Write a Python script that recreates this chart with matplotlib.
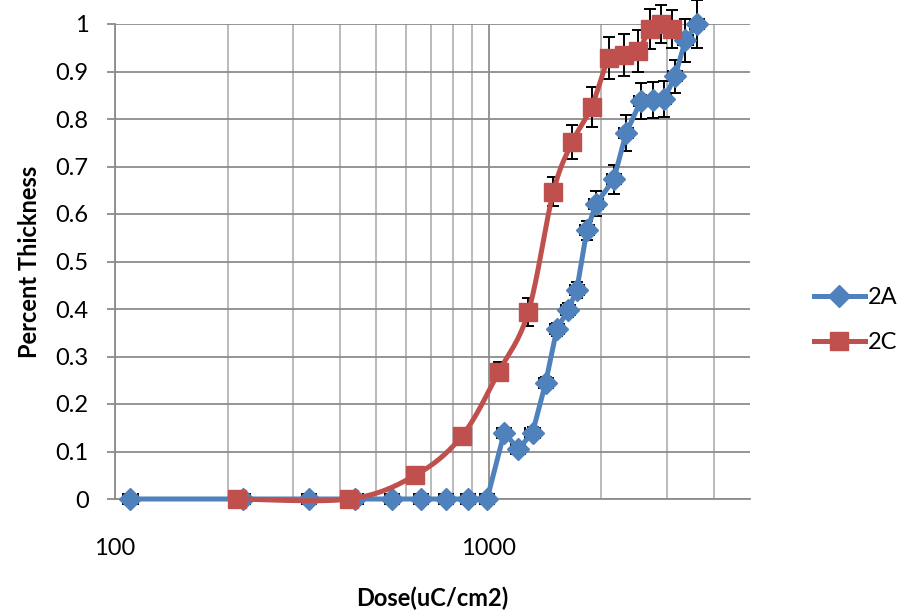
import numpy as np
import matplotlib
matplotlib.use("Agg")
import matplotlib.pyplot as plt
from matplotlib.ticker import FixedLocator, NullFormatter, FixedFormatter
from matplotlib.lines import Line2D

# Series 2A
dose_2a = [110, 220, 330, 440, 550, 660, 770, 880, 990,
           1100, 1200, 1310, 1420, 1520, 1630, 1720, 1830, 1940,
           2160, 2330, 2550, 2750, 2950, 3150, 3360, 3610]
thick_2a = [0, 0, 0, 0, 0, 0, 0, 0, 0,
            0.14, 0.105, 0.14, 0.245, 0.357, 0.398, 0.44, 0.566, 0.622,
            0.673, 0.77, 0.838, 0.84, 0.843, 0.89, 0.966, 1.0]
err_2a = [0.01] * 9 + [0.01, 0.01, 0.012, 0.012, 0.014, 0.015, 0.016, 0.02, 0.027,
                       0.03, 0.038, 0.037, 0.037, 0.038, 0.035, 0.045, 0.05]

# Series 2C
dose_2c = [212, 424, 636, 848, 1064, 1276, 1489, 1675, 1885,
           2100, 2295, 2515, 2695, 2890, 3095]
thick_2c = [0, 0, 0.05, 0.133, 0.268, 0.394, 0.647, 0.752, 0.826,
            0.929, 0.935, 0.944, 0.99, 1.0, 0.99]
err_2c = [0.005, 0.005, 0.01, 0.015, 0.02, 0.03, 0.03, 0.036, 0.042,
          0.044, 0.044, 0.044, 0.042, 0.04, 0.04]

y_ticks = [0, 0.1, 0.2, 0.3, 0.4, 0.5, 0.6, 0.7, 0.8, 0.9, 1]
y_tick_labels = ["0", "0.1", "0.2", "0.3", "0.4", "0.5", "0.6", "0.7", "0.8", "0.9", "1"]
x_major = [100, 1000]
x_major_labels = ["100", "1000"]
x_minor = [200, 300, 400, 500, 600, 700, 800, 900, 2000, 3000, 4000]

BLUE = "#4F81BD"
RED = "#C0504D"
FONT = "Lato"
FS = 17


def smooth_curve(xs, ys, n=30):
    """Catmull-Rom curve through the points in (log10 x, y) space."""
    u = np.log10(np.asarray(xs, float))
    v = np.asarray(ys, float)
    P = np.column_stack([u, v])
    P = np.vstack([P[0], P, P[-1]])
    out = []
    for i in range(1, len(P) - 2):
        p0, p1, p2, p3 = P[i - 1], P[i], P[i + 1], P[i + 2]
        c1 = p1 + (p2 - p0) / 6.0
        c2 = p2 - (p3 - p1) / 6.0
        t = np.linspace(0, 1, n)[:, None]
        seg = ((1 - t) ** 3) * p1 + 3 * ((1 - t) ** 2) * t * c1 + 3 * (1 - t) * t ** 2 * c2 + t ** 3 * p2
        out.append(seg if i == 1 else seg[1:])
    out = np.vstack(out)
    return 10 ** out[:, 0], out[:, 1]


plt.rcParams["font.family"] = [FONT, "DejaVu Sans"]

fig = plt.figure(figsize=(9.06, 6.10), dpi=100)
ax = fig.add_axes([115 / 906, 1 - 499 / 610, (750 - 115) / 906, (499 - 24) / 610])

ax.set_xscale("log")
ax.set_xlim(100, 5000)
ax.set_ylim(0, 1)

# grid
ax.xaxis.set_major_locator(FixedLocator(x_major))
ax.xaxis.set_major_formatter(FixedFormatter(x_major_labels))
ax.xaxis.set_minor_locator(FixedLocator(x_minor))
ax.xaxis.set_minor_formatter(NullFormatter())
ax.set_yticks(y_ticks)
ax.set_yticklabels(y_tick_labels)
ax.grid(True, which="major", axis="both", color="#8c8c8c", linewidth=1.3, zorder=0)
ax.grid(True, which="minor", axis="x", color="#b4b4b4", linewidth=1.3, zorder=0)
ax.set_axisbelow(True)

for s in ["top", "right"]:
    ax.spines[s].set_visible(False)
for s in ["left", "bottom"]:
    ax.spines[s].set_color("#8c8c8c")
    ax.spines[s].set_linewidth(1.3)

ax.tick_params(axis="y", which="major", length=6, width=1.3, color="#8c8c8c",
               labelsize=FS, pad=13)
ax.tick_params(axis="x", which="both", length=0, labelsize=FS, pad=28)

# 2A: straight segments
ax.errorbar(dose_2a, thick_2a, yerr=err_2a,
            xerr=[np.array(dose_2a) * 0.043, np.array(dose_2a) * 0.045],
            fmt="none", ecolor="black", elinewidth=1.4, capsize=4, capthick=1.4,
            zorder=3, clip_on=False)
ax.plot(dose_2a, thick_2a, color=BLUE, linewidth=3.6, marker="D", markersize=11,
        markerfacecolor=BLUE, markeredgecolor=BLUE, zorder=4, clip_on=False)

# 2C: smoothed line
ax.errorbar(dose_2c, thick_2c, yerr=err_2c, fmt="none", ecolor="black",
            elinewidth=1.4, capsize=4.5, capthick=1.4, zorder=5, clip_on=False)
sx, sy = smooth_curve(dose_2c, thick_2c)
ax.plot(sx, sy, color=RED, linewidth=3.6, zorder=6, clip_on=False)
ax.plot(dose_2c, thick_2c, linestyle="none", marker="s", markersize=13,
        markerfacecolor=RED, markeredgecolor=RED, zorder=7, clip_on=False)

# legend
handles = [
    Line2D([], [], color=BLUE, linewidth=3.6, marker="D", markersize=11),
    Line2D([], [], color=RED, linewidth=3.6, marker="s", markersize=13),
]
fig.legend(handles, ["2A", "2C"], loc="center left",
           bbox_to_anchor=(797 / 906, 1 - 320 / 610), frameon=False,
           fontsize=FS, handlelength=2.2, handletextpad=0.1, labelspacing=1.0,
           borderpad=0.2)

ax.set_xlabel("Dose(uC/cm2)", fontsize=FS, fontweight="bold", labelpad=20)
ax.set_ylabel("Percent Thickness", fontsize=FS, fontweight="bold", labelpad=10)

fig.savefig("out.png", dpi=100)
